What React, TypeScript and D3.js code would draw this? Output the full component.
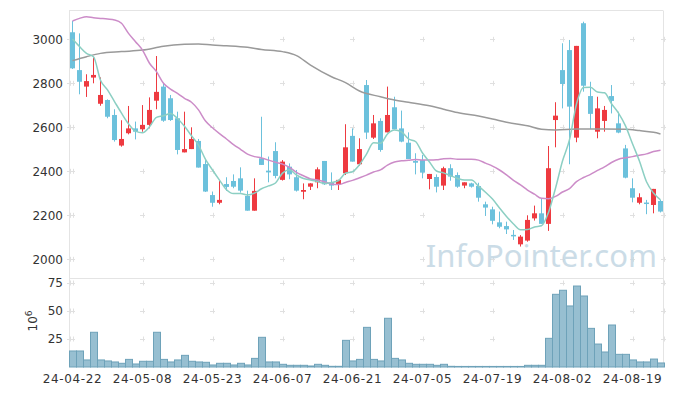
import React, { useEffect, useRef } from 'react';
import * as d3 from 'd3';

// trading days shown (yy-mm-dd)
const dates = [
  '24-04-22', '24-04-23', '24-04-24', '24-04-25', '24-04-26', '24-04-29', '24-04-30',
  '24-05-02', '24-05-03', '24-05-07', '24-05-08', '24-05-09', '24-05-10', '24-05-13',
  '24-05-14', '24-05-16', '24-05-17', '24-05-20', '24-05-21', '24-05-22', '24-05-23',
  '24-05-24', '24-05-27', '24-05-28', '24-05-29', '24-05-30', '24-05-31',
  '24-06-03', '24-06-04', '24-06-05', '24-06-07', '24-06-10', '24-06-11', '24-06-12',
  '24-06-13', '24-06-14', '24-06-17', '24-06-18', '24-06-19', '24-06-20', '24-06-21',
  '24-06-24', '24-06-25', '24-06-26', '24-06-27', '24-06-28',
  '24-07-01', '24-07-02', '24-07-03', '24-07-04', '24-07-05', '24-07-08', '24-07-09',
  '24-07-10', '24-07-11', '24-07-12', '24-07-15', '24-07-16', '24-07-17', '24-07-18',
  '24-07-19', '24-07-22', '24-07-23', '24-07-24', '24-07-25', '24-07-26', '24-07-29',
  '24-07-30', '24-07-31',
  '24-08-01', '24-08-02', '24-08-05', '24-08-06', '24-08-07', '24-08-08', '24-08-09',
  '24-08-12', '24-08-13', '24-08-14', '24-08-16', '24-08-19', '24-08-20', '24-08-21',
  '24-08-22', '24-08-23',
];

const opens = [
  3032, 2860, 2785, 2826, 2707, 2724, 2656, 2517, 2573, 2595,
  2591, 2611, 2721, 2785, 2732, 2641, 2486, 2501, 2538, 2433,
  2292, 2257, 2342, 2356, 2368, 2288, 2221, 2459, 2403, 2492,
  2361, 2421, 2373, 2307, 2330, 2350, 2447, 2348, 2342, 2391,
  2561, 2432, 2792, 2553, 2629, 2577, 2691, 2595, 2530, 2447,
  2451, 2365, 2374, 2335, 2414, 2383, 2335, 2345, 2333, 2250,
  2227, 2168, 2151, 2111, 2068, 2085, 2186, 2209, 2161, 2633,
  2860, 2951, 2553, 3073, 2742, 2580, 2629, 2742, 2618, 2504,
  2323, 2257, 2258, 2247, 2265,
];
const highs = [
  3083, 3027, 2841, 2918, 2827, 2727, 2682, 2632, 2697, 2626,
  2701, 2736, 2924, 2800, 2747, 2671, 2671, 2600, 2547, 2451,
  2308, 2357, 2373, 2386, 2418, 2312, 2368, 2648, 2467, 2532,
  2451, 2436, 2406, 2345, 2346, 2418, 2447, 2395, 2361, 2614,
  2595, 2550, 2815, 2656, 2641, 2785, 2739, 2676, 2577, 2482,
  2474, 2388, 2386, 2421, 2432, 2395, 2350, 2348, 2348, 2262,
  2239, 2217, 2171, 2133, 2110, 2200, 2244, 2274, 2515, 2714,
  2982, 2997, 2970, 3080, 2807, 2739, 2697, 2792, 2671, 2520,
  2368, 2300, 2270, 2320, 2270,
];
const lows = [
  2865, 2750, 2738, 2800, 2698, 2641, 2535, 2512, 2568, 2545,
  2580, 2595, 2682, 2625, 2629, 2477, 2486, 2501, 2417, 2306,
  2239, 2250, 2311, 2323, 2303, 2221, 2221, 2429, 2350, 2368,
  2358, 2364, 2308, 2273, 2315, 2323, 2338, 2315, 2315, 2383,
  2444, 2425, 2547, 2547, 2489, 2577, 2591, 2532, 2456, 2386,
  2368, 2318, 2304, 2315, 2357, 2325, 2323, 2326, 2262, 2197,
  2159, 2141, 2115, 2088, 2058, 2080, 2176, 2161, 2129, 2509,
  2686, 2432, 2532, 2762, 2592, 2550, 2580, 2663, 2573, 2368,
  2259, 2250, 2205, 2209, 2213,
];
const closes = [
  2868, 2807, 2810, 2838, 2747, 2648, 2542, 2547, 2595, 2580,
  2611, 2679, 2761, 2630, 2633, 2497, 2501, 2547, 2417, 2308,
  2257, 2270, 2329, 2330, 2312, 2221, 2311, 2429, 2395, 2379,
  2444, 2386, 2312, 2315, 2345, 2409, 2341, 2335, 2361, 2509,
  2444, 2501, 2576, 2618, 2497, 2656, 2591, 2535, 2456, 2439,
  2394, 2388, 2330, 2414, 2376, 2330, 2350, 2330, 2280, 2235,
  2175, 2148, 2136, 2109, 2103, 2179, 2209, 2161, 2414, 2653,
  2797, 2694, 2970, 2789, 2661, 2686, 2679, 2720, 2576, 2371,
  2280, 2282, 2252, 2320, 2217,
];
// volume, millions
const volumes = [
  14.3, 14.3, 6.3, 31, 6.3, 5.4, 4.5, 3.3, 6.8, 2.7,
  5.1, 5.1, 31, 6.8, 4.5, 6.3, 10.4, 5.1, 4.5, 4.2,
  1.8, 3.3, 3.3, 1.8, 3.3, 1.8, 7.7, 26.5, 4.5, 4.5,
  2.4, 1.5, 1.5, 1.5, 0.9, 2.4, 1.5, 0.6, 0.6, 23.8,
  5.4, 6.8, 35.4, 6.8, 5.4, 43.5, 7.7, 6.3, 3.3, 2.4,
  2.4, 2.4, 1.5, 2.4, 0.6, 0.5, 0.5, 0.5, 0.5, 0.5,
  0.5, 0.5, 0.5, 0.5, 0.5, 1.5, 1.5, 1.5, 25.6, 64.9,
  68.5, 54.5, 72.3, 63.4, 34.5, 20.5, 13.4, 37.5, 11.3, 11.3,
  6.3, 4.5, 4.5, 7.1, 3.6,
];

// moving-average values before enough visible closes exist
const ma5Head = [3001, 2967, 2936, 2921];
const ma20Head = [
  3083, 3095, 3103, 3098, 3095, 3092, 3088, 3073, 3027, 2989,
  2951, 2891, 2853, 2800, 2774, 2754, 2732, 2714, 2679,
];
// long moving average, [index, value]
const ma60Points: [number, number][] = [
  [0, 2903], [2, 2921], [4, 2936], [7, 2944], [10, 2951], [13, 2968], [16, 2977],
  [18, 2979], [20, 2974], [22, 2971], [25, 2964], [27, 2954], [30, 2944], [32, 2926],
  [34, 2883], [37, 2830], [39, 2803], [41, 2765], [44, 2739], [46, 2724], [48, 2714],
  [51, 2698], [53, 2682], [55, 2667], [58, 2651], [60, 2638], [62, 2623], [65, 2607],
  [67, 2591], [69, 2588], [72, 2592], [76, 2592], [79, 2591], [81, 2585], [83, 2577],
  [84, 2570],
];

const priceTicks = [2000, 2200, 2400, 2600, 2800, 3000];
const volumeTicks = [25, 50, 75];
const dateTickIdx = [0, 10, 20, 30, 40, 50, 60, 70, 80];

const W = 673;
const H = 396;
const left = 69;
const right = 663;
const top = 10.5;
const split = 278.5;
const volBottom = 367;

const UP = '#ee3a40';
const DOWN = '#6cc1dc';
const FONT = '"DejaVu Sans", sans-serif';

function movingAverage(period: number, head: number[]) {
  return closes.map((c, i) =>
    i < head.length ? head[i] : (d3.mean(closes.slice(i - period + 1, i + 1)) as number)
  );
}

const App: React.FC = () => {
  const svgRef = useRef<SVGSVGElement>(null);

  useEffect(() => {
    if (!svgRef.current) return;
    const svg = d3.select(svgRef.current);
    svg.selectAll('*').remove();

    const x = d3.scaleBand<number>()
      .domain(dates.map((_, i) => i))
      .range([left, left + 7 * dates.length]);
    const xc = (i: number) => (x(i) as number) + x.bandwidth() / 2;

    const y = d3.scaleLinear().domain([2000, 3000]).range([259.3, 39.3]);
    const yv = d3.scaleLinear().domain([0, 75]).range([volBottom, 283]);

    // frame
    const frame = svg.append('g').attr('stroke', '#e4e4e4').attr('stroke-width', 1).attr('fill', 'none');
    frame.append('line').attr('x1', left).attr('x2', right).attr('y1', top).attr('y2', top);
    frame.append('line').attr('x1', left).attr('x2', right).attr('y1', split).attr('y2', split);
    frame.append('line').attr('x1', left + 0.5).attr('x2', left + 0.5).attr('y1', top).attr('y2', volBottom);
    frame.append('line').attr('x1', right + 0.5).attr('x2', right + 0.5).attr('y1', top).attr('y2', volBottom);

    // grid crosses
    const crosses: [number, number][] = [];
    dateTickIdx.forEach(i => {
      priceTicks.forEach(p => crosses.push([xc(i), y(p)]));
      volumeTicks.forEach(v => crosses.push([xc(i), yv(v)]));
    });
    priceTicks.forEach(p => crosses.push([left + 0.5, y(p)]));
    volumeTicks.forEach(v => crosses.push([left + 0.5, yv(v)]));
    crosses.push([right + 0.5, yv(75)], [right + 0.5, yv(50)], [right + 0.5, yv(25)]);
    priceTicks.forEach(p => crosses.push([right + 0.5, y(p)]));
    svg.append('g')
      .selectAll('path')
      .data(crosses)
      .join('path')
      .attr('d', d => `M${d[0] - 2.5},${Math.round(d[1]) + 0.5}h5M${Math.round(d[0]) + 0.5},${d[1] - 2.5}v5`)
      .attr('stroke', '#e0e0e0')
      .attr('stroke-width', 1);

    // watermark
    svg.append('text')
      .attr('x', 657)
      .attr('y', 267)
      .attr('text-anchor', 'end')
      .attr('font-family', '"Noto Sans", sans-serif')
      .attr('font-size', 31)
      .attr('fill', '#c3d7e3')
      .attr('opacity', 0.85)
      .text('InfoPointer.com');

    // volume
    svg.append('g')
      .selectAll('rect')
      .data(volumes)
      .join('rect')
      .attr('x', (_, i) => (x(i) as number) + 0.5)
      .attr('width', x.bandwidth())
      .attr('y', d => yv(d))
      .attr('height', d => yv(0) - yv(d))
      .attr('fill', '#97bfd1')
      .attr('stroke', '#6ea2b9')
      .attr('stroke-width', 1);

    // candles
    const candles = svg.append('g')
      .selectAll('g')
      .data(dates.map((_, i) => i))
      .join('g')
      .attr('fill', i => (closes[i] >= opens[i] ? UP : DOWN))
      .attr('stroke', i => (closes[i] >= opens[i] ? UP : DOWN));
    candles.append('line')
      .attr('x1', i => xc(i))
      .attr('x2', i => xc(i))
      .attr('y1', i => y(highs[i]))
      .attr('y2', i => y(lows[i]))
      .attr('stroke-width', 1);
    candles.append('rect')
      .attr('x', i => xc(i) - 2.5)
      .attr('width', 5)
      .attr('y', i => y(Math.max(opens[i], closes[i])))
      .attr('height', i => Math.max(1.5, Math.abs(y(opens[i]) - y(closes[i]))))
      .attr('stroke', 'none');

    // moving averages
    const line = d3.line<[number, number]>()
      .x(d => xc(d[0]))
      .y(d => y(d[1]))
      .curve(d3.curveMonotoneX);
    const ma5 = movingAverage(5, ma5Head).map((v, i) => [i, v] as [number, number]);
    const ma20 = movingAverage(20, ma20Head).map((v, i) => [i, v] as [number, number]);
    svg.append('path').attr('d', line(ma60Points)).attr('fill', 'none')
      .attr('stroke', '#9a9a9a').attr('stroke-width', 1.5);
    svg.append('path').attr('d', line(ma20)).attr('fill', 'none')
      .attr('stroke', '#cc8cc8').attr('stroke-width', 1.5);
    svg.append('path').attr('d', line(ma5)).attr('fill', 'none')
      .attr('stroke', '#8ccfc3').attr('stroke-width', 1.5);

    // axes labels
    const labels = svg.append('g').attr('font-family', FONT).attr('font-size', 12).attr('fill', '#333');
    labels.selectAll('text.p')
      .data(priceTicks)
      .join('text')
      .attr('class', 'p')
      .attr('x', 63)
      .attr('y', d => y(d))
      .attr('dy', '0.36em')
      .attr('text-anchor', 'end')
      .text(d => d);
    labels.selectAll('text.v')
      .data(volumeTicks)
      .join('text')
      .attr('class', 'v')
      .attr('x', 63)
      .attr('y', d => yv(d))
      .attr('dy', '0.36em')
      .attr('text-anchor', 'end')
      .text(d => d);
    labels.selectAll('text.d')
      .data(dateTickIdx)
      .join('text')
      .attr('class', 'd')
      .attr('x', i => xc(i))
      .attr('y', 383)
      .attr('text-anchor', 'middle')
      .attr('letter-spacing', 0.6)
      .text(i => dates[i]);

    const unit = labels.append('text')
      .attr('transform', 'translate(37,321) rotate(-90)')
      .attr('text-anchor', 'middle');
    unit.append('tspan').text('10');
    unit.append('tspan').attr('dy', -5).attr('font-size', 9).text('6');
  }, []);

  return (
    <svg
      ref={svgRef}
      width={W}
      height={H}
      style={{ position: 'absolute', left: 0, top: 0, background: '#fff' }}
    />
  );
};

export default App;
